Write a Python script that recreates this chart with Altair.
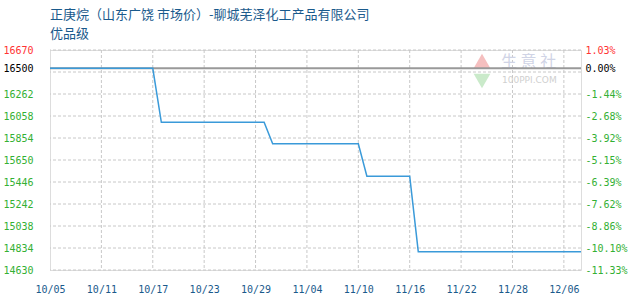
import altair as alt
import pandas as pd

# ---- data ----
tick_labels = ["10/05", "10/11", "10/17", "10/23", "10/29", "11/04",
               "11/10", "11/16", "11/22", "11/28", "12/06"]
tick_index = [0, 6, 12, 18, 24, 30, 36, 42, 48, 54, 60]
prices = [16500] * 13 + [16000] * 13 + [15800] * 11 + [15500] * 6 + [14800] * 20
y_ticks = [14630, 14834, 15038, 15242, 15446, 15650, 15854, 16058, 16262, 16500, 16670]
grid_vals = [14630, 14834, 15038, 15242, 15446, 15650, 15854, 16058, 16262, 16466, 16670]
base_price = 16500
title_lines = ["正庚烷（山东广饶 市场价）-聊城芜泽化工产品有限公司", "优品级"]

df = pd.DataFrame({"i": list(range(len(prices))), "price": prices})
grid_df = pd.DataFrame({"g": grid_vals})
vgrid_df = pd.DataFrame({"v": tick_index[1:]})
base_df = pd.DataFrame({"b": [base_price]})

label_map = "{" + ",".join(f"'{k}':'{v}'" for k, v in zip(tick_index, tick_labels)) + "}"

XDOM = [0, 62]
YDOM = [14630, 16670]
MONO = "DejaVu Sans Mono"

xscale = alt.Scale(domain=XDOM, nice=False, zero=False)
yscale = alt.Scale(domain=YDOM, nice=False, zero=False)

label_color = {"condition": [
    {"test": "datum.value == 16670", "value": "#ff3333"},
    {"test": "datum.value == 16500", "value": "#000000"}],
    "value": "#33b033"}

x_axis = alt.Axis(values=tick_index, labelExpr=f"{label_map}[datum.value]",
                  grid=False, ticks=False, domain=False, labelFont=MONO,
                  labelFontSize=10, labelColor="#1a5a8c", labelPadding=14,
                  labelFlush=False)

hgrid = alt.Chart(grid_df).mark_rule(color="#c8c8c8", strokeDash=[3, 2], strokeWidth=1).encode(
    y=alt.Y("g:Q", scale=yscale, axis=None)
)
vgrid = alt.Chart(vgrid_df).mark_rule(color="#c8c8c8", strokeDash=[3, 2], strokeWidth=1).encode(
    x=alt.X("v:Q", scale=xscale, title=None, axis=x_axis)
)
base = alt.Chart(base_df).mark_rule(color="#999999", strokeWidth=2).encode(
    y=alt.Y("b:Q", scale=yscale, axis=None)
)

line = alt.Chart(df).mark_line(color="#3a9ad9", strokeWidth=1.5).encode(
    x=alt.X("i:Q", scale=xscale, title=None, axis=x_axis),
    y=alt.Y("price:Q", scale=yscale, title=None,
            axis=alt.Axis(values=y_ticks, grid=False, ticks=False, domain=False,
                          labelExpr="format(datum.value, 'd')",
                          labelFont=MONO, labelFontSize=10, labelPadding=17,
                          labelColor=label_color)),
)

right = alt.Chart(df).mark_line(opacity=0).encode(
    x=alt.X("i:Q", scale=xscale, title=None, axis=x_axis),
    y=alt.Y("price:Q", scale=yscale, title=None,
            axis=alt.Axis(orient="right", values=y_ticks, grid=False, ticks=False, domain=False,
                          labelFont=MONO, labelFontSize=10, labelPadding=4,
                          labelExpr=f"(datum.value < {base_price} ? '-' : '') + format(abs((datum.value - {base_price}) / {base_price} * 100), '.2f') + '%'",
                          labelColor=label_color)),
)

wm_df = pd.DataFrame({"k": [0]})
wm_up = alt.Chart(wm_df).mark_point(shape="triangle-up", filled=True, color="#f4b8b8", size=280, opacity=0.9).encode(
    x=alt.value(432), y=alt.value(11))
wm_down = alt.Chart(wm_df).mark_point(shape="triangle-down", filled=True, color="#c4e8c4", size=280, opacity=0.9).encode(
    x=alt.value(432), y=alt.value(31))
wm_text = alt.Chart(wm_df).mark_text(text="生 意 社", font="Noto Sans CJK SC", fontSize=16,
                                     color="#d0d4e6", align="left", baseline="middle").encode(
    x=alt.value(451), y=alt.value(12))
wm_text2 = alt.Chart(wm_df).mark_text(text="100PPI.COM", font="DejaVu Sans", fontSize=9,
                                      color="#d0d0d0", align="left", baseline="middle").encode(
    x=alt.value(452), y=alt.value(30))

chart = alt.layer(hgrid, vgrid, wm_up, wm_down, wm_text, wm_text2, base, line, right).resolve_scale(
    y="independent"
).properties(
    width=531, height=220,
    title=alt.TitleParams(text=title_lines, anchor="start", frame="group", fontSize=13,
                          fontWeight="normal", font="Noto Sans CJK SC", color="#1a5a8c",
                          lineHeight=19, offset=4),
    autosize=alt.AutoSizeParams(type="none"),
    padding={"left": 50, "top": 50, "right": 49, "bottom": 30},
).configure_view(stroke="#999999", strokeWidth=1.5).configure(background="white")

chart.save("out.html", embed_options={"renderer": "svg", "actions": False})
